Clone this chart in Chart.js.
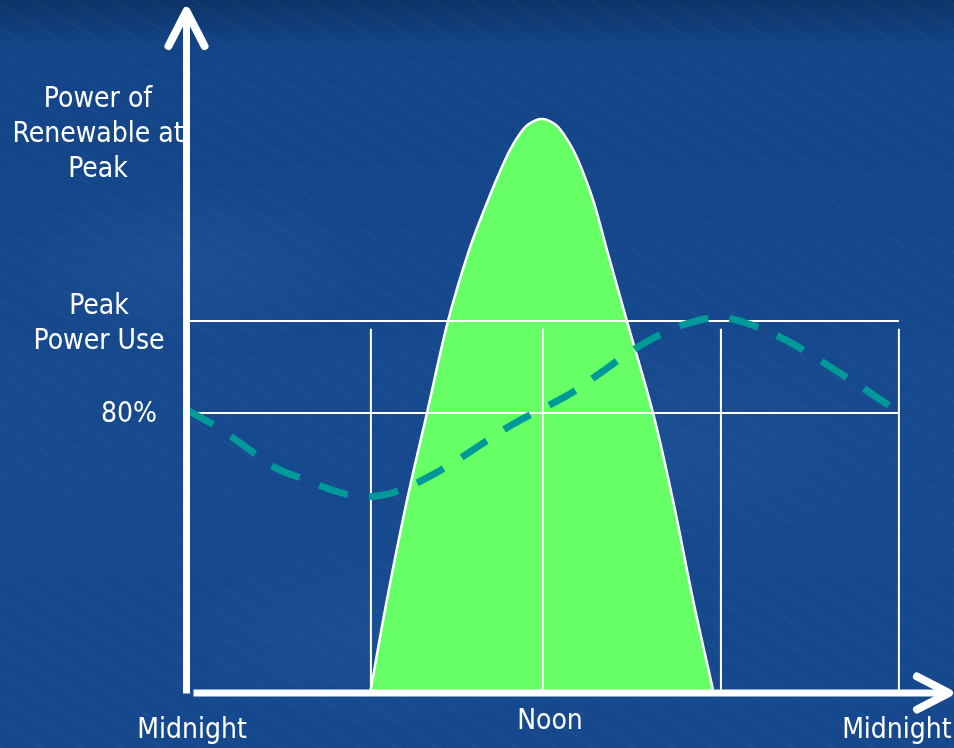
<!DOCTYPE html>
<html>
<head>
<meta charset="utf-8">
<title>Renewable power vs demand</title>
<script src="https://cdn.jsdelivr.net/npm/chart.js@4.4.1/dist/chart.umd.min.js"></script>
<style>
  html, body { margin: 0; padding: 0; }
  body {
    width: 954px; height: 748px; overflow: hidden;
    background:
      radial-gradient(ellipse 260px 120px at 20% 35%, rgba(90,140,210,0.10), transparent 70%),
      radial-gradient(ellipse 300px 140px at 70% 60%, rgba(90,140,210,0.08), transparent 70%),
      radial-gradient(ellipse 280px 130px at 40% 85%, rgba(90,140,210,0.08), transparent 70%),
      repeating-linear-gradient(32deg, rgba(255,255,255,0.018) 0 3px, transparent 3px 21px),
      linear-gradient(180deg, #0d3468 0%, #134487 6%, #16498e 50%, #15488c 100%);
  }
  #wrap { position: relative; width: 954px; height: 748px; }
</style>
</head>
<body>
<div id="wrap"><canvas id="chart"></canvas></div>
<script>
// Efterfrågan över dygnet (% av toppeffekt)
const demandHours = [0, 1, 2, 3, 4, 5, 6, 7, 8, 9, 10, 11, 12, 13, 14, 15, 16, 17, 18, 19, 20, 21, 22, 23, 24];
const demandValues = [80.6, 77, 72.5, 68, 65.5, 63, 61.8, 62.8, 65.6, 69.3, 73.5, 77.6, 81, 84.5, 89, 93.5, 97.2, 99.7, 100.7, 99.2, 96.5, 92.8, 88.7, 84.5, 80.2];

// Förnybar produktion (solkurvan)
const solarHours = [6.17, 6.74, 7.42, 8.09, 8.8, 9.51, 10.15, 10.62, 10.89, 11.19, 11.5, 11.96,
    12.42, 12.72, 13.02, 13.28, 13.69, 14.16, 14.83, 15.71, 16.38, 17.06, 17.76];
const solarValues = [19, 39.4, 61.1, 80, 100, 115.4, 126.3, 133.5, 137.2, 140.4, 142.7, 143.9,
    142.7, 140.4, 137.2, 133.5, 126.3, 115.4, 100, 80, 61.1, 39.4, 19];

// Hjälplinjer
const levelValues = [80, 100];
const dividerHours = [6.2, 12, 18, 24];
const dividerTop = 98.3;
const axisMin = 19;

// Etiketter
const yLabelValues = [141, 100, 80];
const yLabelTexts = [['Power of', 'Renewable at', 'Peak'], ['Peak', 'Power Use'], ['80%']];
const xLabelValues = [0, 12, 24];
const xLabelTexts = ['Midnight', 'Noon', 'Midnight'];

const FONT = '28px "DejaVu Sans Condensed", "DejaVu Sans", sans-serif';
const WHITE = '#ffffff';

// Etikettplacering (pixlar)
const yLabelStyle = [
    { align: 'center', x: 98, dy: 2 },
    { align: 'center', x: 99, dy: 3.5 },
    { align: 'right', x: 157, dy: 2 }
];
const xLabelStyle = [
    { dx: 5, y: 731 },
    { dx: 7, y: 722 },
    { dx: -2, y: 731 }
];

// Bygg dataset
const datasets = [];
datasets.push({
    label: 'Demand',
    data: demandHours.map((h, i) => ({ x: h, y: demandValues[i] })),
    borderColor: '#009999',
    borderWidth: 7,
    borderDash: [30, 21],
    borderCapStyle: 'butt',
    pointRadius: 0,
    tension: 0.4,
    fill: false,
    clip: false
});
levelValues.forEach(v => {
    datasets.push({
        label: 'level ' + v,
        data: [{ x: 0.1, y: v }, { x: 24, y: v }],
        borderColor: WHITE,
        borderWidth: 2,
        pointRadius: 0,
        fill: false,
        clip: false
    });
});
dividerHours.forEach(h => {
    datasets.push({
        label: 'divider ' + h,
        data: [{ x: h, y: axisMin }, { x: h, y: dividerTop }],
        borderColor: WHITE,
        borderWidth: 2,
        pointRadius: 0,
        fill: false,
        clip: false
    });
});
datasets.push({
    label: 'Renewable',
    data: solarHours.map((h, i) => ({ x: h, y: solarValues[i] })),
    borderColor: WHITE,
    borderWidth: 2.5,
    backgroundColor: '#66ff66',
    pointRadius: 0,
    tension: 0.35,
    fill: 'start',
    clip: false
});

// Plugin: text, axlar och pilar
const overlayPlugin = {
    id: 'overlay',
    afterDatasetsDraw(chart) {
        const ctx = chart.ctx;
        const xs = chart.scales.x;
        const ys = chart.scales.y;
        ctx.save();
        ctx.fillStyle = WHITE;
        ctx.font = FONT;
        ctx.textBaseline = 'middle';

        // y-etiketter
        const lineHeight = 35;
        yLabelValues.forEach((v, i) => {
            const lines = yLabelTexts[i];
            const cy = ys.getPixelForValue(v) + yLabelStyle[i].dy;
            ctx.textAlign = yLabelStyle[i].align;
            lines.forEach((line, j) => {
                const y = cy + (j - (lines.length - 1) / 2) * lineHeight;
                ctx.fillText(line, yLabelStyle[i].x, y);
            });
        });

        // x-etiketter
        ctx.textAlign = 'center';
        xLabelValues.forEach((h, i) => {
            ctx.fillText(xLabelTexts[i], xs.getPixelForValue(h) + xLabelStyle[i].dx, xLabelStyle[i].y);
        });

        // axlar
        const x0 = xs.getPixelForValue(0) - 0.5;
        const y0 = ys.getPixelForValue(axisMin);
        ctx.strokeStyle = WHITE;
        ctx.lineWidth = 7;
        ctx.lineCap = 'butt';
        ctx.beginPath();
        ctx.moveTo(x0, y0);
        ctx.lineTo(x0, chart.chartArea.top + 4);
        ctx.moveTo(x0 + 7, y0 - 0.5);
        ctx.lineTo(chart.chartArea.right - 4, y0 - 0.5);
        ctx.stroke();

        // pilspetsar
        ctx.lineCap = 'round';
        ctx.lineJoin = 'round';
        ctx.lineWidth = 8;
        const top = chart.chartArea.top + 1;
        ctx.beginPath();
        ctx.moveTo(x0 - 18, top + 35);
        ctx.lineTo(x0, top);
        ctx.lineTo(x0 + 18, top + 35);
        const right = chart.chartArea.right - 3;
        ctx.moveTo(right - 32, y0 - 17);
        ctx.lineTo(right, y0 - 0.5);
        ctx.lineTo(right - 32, y0 + 16);
        ctx.stroke();
        ctx.restore();
    }
};

new Chart(document.getElementById('chart'), {
    type: 'line',
    data: { datasets },
    options: {
        responsive: true,
        maintainAspectRatio: false,
        animation: false,
        layout: { padding: { left: 187, right: 2, top: 10, bottom: 54.5 } },
        plugins: {
            legend: { display: false },
            tooltip: { enabled: false }
        },
        scales: {
            x: { type: 'linear', min: 0, max: 25.79, display: false },
            y: { type: 'linear', min: axisMin, max: 167.6, display: false }
        }
    },
    plugins: [overlayPlugin]
});
</script>
</body>
</html>
